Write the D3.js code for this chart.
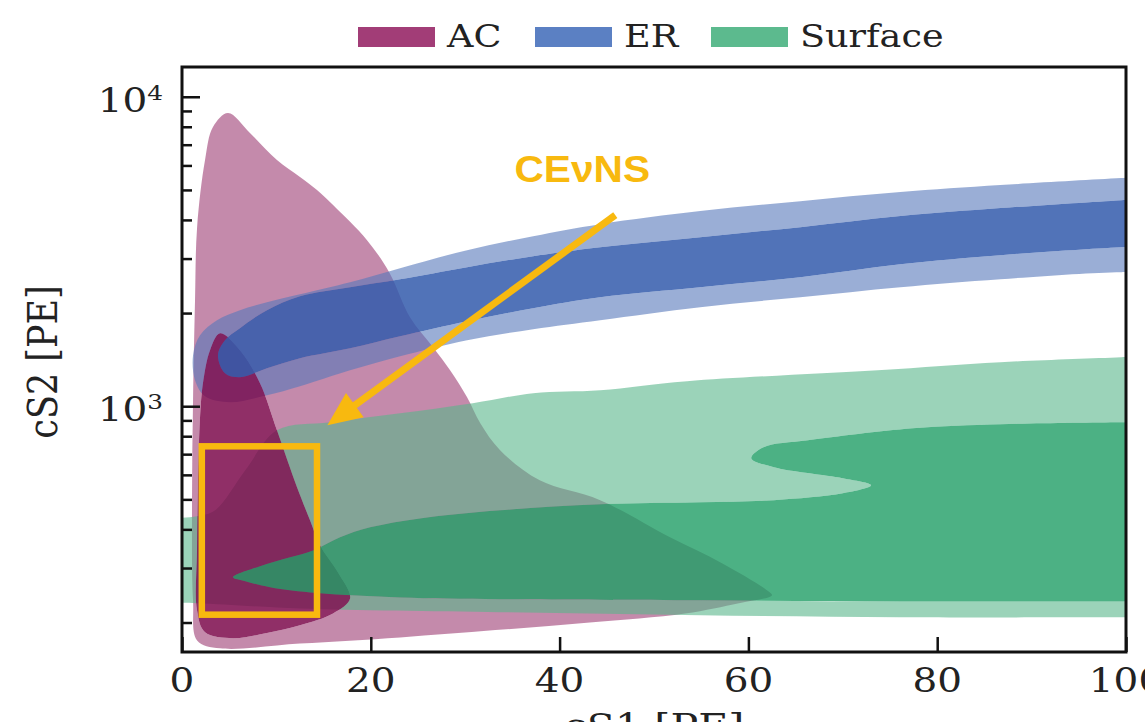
<!DOCTYPE html>
<html>
<head>
<meta charset="utf-8">
<script src="https://cdn.jsdelivr.net/npm/d3@7"></script>
<style>
	body { margin: 0; background: #fff; }
	svg { display: block; }
</style>
</head>
<body>
<svg id="chart"></svg>
<script>
// Axis ticks
const xTicks = [0, 20, 40, 60, 80, 100];
const yMajorTicks = [1000, 10000];
const yMinorTicks = [200, 300, 400, 500, 600, 700, 800, 900, 2000, 3000, 4000, 5000, 6000, 7000, 8000, 9000];

// Legend entries
const legendLabels = ["AC", "ER", "Surface"];

// Contour outlines as [cS1, cS2] (ends past x=100 are clipped)
const acOuter = [[1.6, 175], [1.17, 236], [1.06, 497], [1.17, 1045], [1.38, 2202], [1.6, 3791], [2.44, 6243],
	[3.28, 7980], [4.87, 8856], [7.2, 7634], [10.06, 6243], [12.5, 5500], [14.3, 4993], [16.0, 4466], [19.6, 3441],
	[22.0, 2692], [24.15, 1940], [26.6, 1551], [28.4, 1307], [30.2, 1069], [31.6, 881], [33.7, 721], [37.9, 576],
	[44.3, 497], [51.7, 377], [57.2, 311], [62.0, 254], [62.5, 245], [59.0, 231], [53.3, 214], [43.2, 200],
	[33.2, 189], [23.1, 179], [12.5, 171], [4.03, 165]];
const acInner = [[4.03, 1722], [6.14, 1517], [8.26, 1187], [10.06, 836], [12.18, 547], [13.56, 428], [14.62, 355],
	[16.53, 290], [17.8, 239], [16.0, 214], [12.5, 196], [9.0, 185], [5.4, 178], [2.44, 186], [1.59, 219],
	[1.59, 342], [1.69, 564], [1.91, 921], [2.22, 1187], [2.97, 1517]];

const erOuter = [[1.17, 1462], [1.91, 1697], [3.71, 1897], [6.14, 2044], [9.0, 2169], [12.5, 2302], [17.8, 2517],
	[23.1, 2794], [30.2, 3194], [37.2, 3545], [44.3, 3876], [54.9, 4271], [65.5, 4600], [76.1, 4920], [86.7, 5183],
	[99.5, 5460], [104, 5560], [110, 5700], [110, 2650], [104, 2680], [99.5, 2712], [86.7, 2574], [76.1, 2425],
	[65.5, 2251], [54.9, 2090], [44.3, 1897], [37.2, 1774], [30.2, 1635], [23.1, 1451], [17.8, 1307], [12.5, 1161],
	[9.0, 1085], [5.08, 1030], [2.44, 1077], [1.38, 1213]];
const erInner = [[3.81, 1462], [4.55, 1635], [6.14, 1788], [9.0, 2044], [12.5, 2268], [17.8, 2425], [23.1, 2574],
	[30.2, 2815], [37.2, 3055], [44.3, 3266], [54.9, 3519], [65.5, 3791], [76.1, 4115], [86.7, 4367], [99.5, 4634],
	[104, 4720], [110, 4830], [110, 3350], [104, 3300], [99.5, 3266], [86.7, 3077], [76.1, 2878], [65.5, 2613],
	[54.9, 2425], [44.3, 2251], [37.2, 2074], [30.2, 1883], [23.1, 1684], [17.8, 1540], [12.5, 1430], [9.0, 1327],
	[6.14, 1241], [4.55, 1279]];

const surfOuter = [[110, 1470], [104, 1460], [99.5, 1440], [86.7, 1388], [73.7, 1307], [53.5, 1205], [44.3, 1126],
	[37.2, 1102], [30.8, 1023], [23.1, 949], [15.7, 888], [10.06, 836], [6.7, 621], [3.5, 461], [1.59, 441],
	[-2, 434], [-6, 434], [-6, 232], [-2, 232], [1.59, 231], [12.5, 222], [33.7, 216], [54.9, 211], [76.1, 208],
	[99.5, 208], [104, 208], [110, 208]];
const surfInner = [[5.4, 280], [8.26, 304], [11.44, 325], [13.88, 342], [16.74, 377], [19.92, 406], [25.2, 434],
	[33.7, 461], [44.3, 482], [54.9, 489], [62.7, 497], [70.0, 523], [73.0, 555], [70.0, 585], [62.7, 635],
	[60.3, 679], [61.6, 737], [66.3, 776], [77.4, 849], [86.7, 875], [99.5, 888], [104, 890], [110, 892],
	[110, 234], [104, 234], [99.5, 234], [76.1, 234], [54.9, 236], [33.7, 238], [23.1, 241], [14.3, 249],
	[9.32, 260], [6.7, 272]];

// CEvNS annotation
const cevnsBox = [[2.1, 212], [14.3, 742]];
const cevnsArrow = [[45.9, 4145], [15.4, 868]];
const cevnsLabel = [42.4, 5299];

const width = 1145;
const height = 722;
const margin = { left: 182, right: 1126, top: 67, bottom: 652 };
const stretch = 1.18; // picture is a bit wider than tall

const svg = d3.select("#chart").attr("width", width).attr("height", height);

const x = d3.scaleLinear().domain([0, 100]).range([margin.left, margin.right]);
const y = d3.scaleLog().domain([160.6, 12480]).range([margin.bottom, margin.top]);

const line = d3.line()
	.x((d) => x(d[0]))
	.y((d) => y(d[1]))
	.curve(d3.curveCatmullRomClosed.alpha(0.5));

svg.append("clipPath").attr("id", "plot-clip")
	.append("rect")
	.attr("x", margin.left).attr("y", margin.top)
	.attr("width", margin.right - margin.left).attr("height", margin.bottom - margin.top);

const plot = svg.append("g").attr("clip-path", "url(#plot-clip)");

// outer band drawn as a ring, inner region on its own
const layers = [
	{ d: line(acOuter) + line(acInner), fill: "rgb(157,60,115)", op: 0.6 },
	{ d: line(surfOuter) + line(surfInner), fill: "rgb(88,182,138)", op: 0.6 },
	{ d: line(erOuter) + line(erInner), fill: "rgb(87,120,187)", op: 0.6 },
	{ d: line(acInner), fill: "rgb(125,10,76)", op: 0.85 },
	{ d: line(erInner), fill: "rgb(51,91,171)", op: 0.85 },
	{ d: line(surfInner), fill: "rgb(31,158,101)", op: 0.8 },
];

plot.selectAll("path.band")
	.data(layers)
	.enter()
	.append("path")
	.attr("class", "band")
	.attr("d", (d) => d.d)
	.attr("fill", (d) => d.fill)
	.attr("fill-opacity", (d) => d.op)
	.attr("fill-rule", "evenodd");

// Annotation
const gold = "#f8b90f";
plot.append("rect")
	.attr("x", x(cevnsBox[0][0]))
	.attr("y", y(cevnsBox[1][1]))
	.attr("width", x(cevnsBox[1][0]) - x(cevnsBox[0][0]))
	.attr("height", y(cevnsBox[0][1]) - y(cevnsBox[1][1]))
	.attr("fill", "none")
	.attr("stroke", gold)
	.attr("stroke-width", 6.5);

const p0 = [x(cevnsArrow[0][0]), y(cevnsArrow[0][1])];
const p1 = [x(cevnsArrow[1][0]), y(cevnsArrow[1][1])];
const len = Math.hypot(p1[0] - p0[0], p1[1] - p0[1]);
const u = [(p1[0] - p0[0]) / len, (p1[1] - p0[1]) / len];
const n = [-u[1], u[0]];
const headLen = 34;
const headHalf = 15;
const base = [p1[0] - u[0] * headLen, p1[1] - u[1] * headLen];

plot.append("line")
	.attr("x1", p0[0]).attr("y1", p0[1])
	.attr("x2", base[0] + u[0] * 2).attr("y2", base[1] + u[1] * 2)
	.attr("stroke", gold)
	.attr("stroke-width", 7);

plot.append("path")
	.attr("d", `M${p1[0]},${p1[1]}L${base[0] + n[0] * headHalf},${base[1] + n[1] * headHalf}L${base[0] - n[0] * headHalf},${base[1] - n[1] * headHalf}Z`)
	.attr("fill", gold);

svg.append("text")
	.attr("transform", `translate(${x(cevnsLabel[0])},${y(cevnsLabel[1])}) scale(1.1,1)`)
	.attr("text-anchor", "middle")
	.attr("font-family", "'Liberation Sans', Arial, sans-serif")
	.attr("font-weight", "bold")
	.attr("font-size", 37)
	.attr("fill", gold)
	.text("CEνNS");

// Ticks (inward)
const xAxis = svg.append("g")
	.attr("transform", `translate(0,${margin.bottom})`)
	.call(d3.axisBottom(x).tickValues(xTicks).tickSize(-15).tickFormat(""));
const yAxis = svg.append("g")
	.attr("transform", `translate(${margin.left},0)`)
	.call(d3.axisLeft(y).tickValues(yMajorTicks).tickSize(-18).tickFormat(""));
const yMinor = svg.append("g")
	.attr("transform", `translate(${margin.left},0)`)
	.call(d3.axisLeft(y).tickValues(yMinorTicks).tickSize(-10).tickFormat(""));

[xAxis, yAxis, yMinor].forEach((g) => {
	g.select(".domain").remove();
	g.selectAll("line").attr("stroke", "#111").attr("stroke-width", 2.5);
});

// Frame
svg.append("rect")
	.attr("x", margin.left).attr("y", margin.top)
	.attr("width", margin.right - margin.left).attr("height", margin.bottom - margin.top)
	.attr("fill", "none")
	.attr("stroke", "#111")
	.attr("stroke-width", 3);

const serif = "'DejaVu Serif', serif";

// Tick labels
svg.selectAll("text.xlab")
	.data(xTicks)
	.enter()
	.append("text")
	.attr("class", "xlab")
	.attr("transform", (d) => `translate(${x(d)},692) scale(${stretch},1)`)
	.attr("text-anchor", "middle")
	.attr("font-family", serif)
	.attr("font-size", 33)
	.attr("fill", "#222")
	.text((d) => d);

yMajorTicks.forEach((v) => {
	const t = svg.append("text")
		.attr("transform", `translate(163,${y(v) + 15}) scale(${stretch},1)`)
		.attr("text-anchor", "end")
		.attr("font-family", serif)
		.attr("font-size", 33)
		.attr("fill", "#222");
	t.append("tspan").text("10");
	t.append("tspan").attr("dy", -12).attr("font-size", 21).text(Math.round(Math.log10(v)));
});

// Axis titles
svg.append("text")
	.attr("transform", `translate(57,362) scale(${stretch},1) rotate(-90)`)
	.attr("text-anchor", "middle")
	.attr("font-family", serif)
	.attr("font-size", 35)
	.attr("fill", "#222")
	.text("cS2 [PE]");

svg.append("text")
	.attr("transform", `translate(${(margin.left + margin.right) / 2},739) scale(${stretch},1)`)
	.attr("text-anchor", "middle")
	.attr("font-family", serif)
	.attr("font-size", 35)
	.attr("fill", "#222")
	.text("cS1 [PE]");

// Legend
const legendColors = ["#a23d77", "#5b80c3", "#5cba8e"];
const legendX = [358, 535, 711];
const legend = svg.append("g").attr("id", "legend");

legend.selectAll("rect")
	.data(legendLabels)
	.enter()
	.append("rect")
	.attr("x", (d, i) => legendX[i])
	.attr("y", 27)
	.attr("width", 77)
	.attr("height", 20)
	.attr("fill", (d, i) => legendColors[i]);

legend.selectAll("text")
	.data(legendLabels)
	.enter()
	.append("text")
	.attr("transform", (d, i) => `translate(${legendX[i] + 89},47) scale(${stretch},1)`)
	.attr("font-family", serif)
	.attr("font-size", 31)
	.attr("fill", "#222")
	.text((d) => d);
</script>
</body>
</html>
